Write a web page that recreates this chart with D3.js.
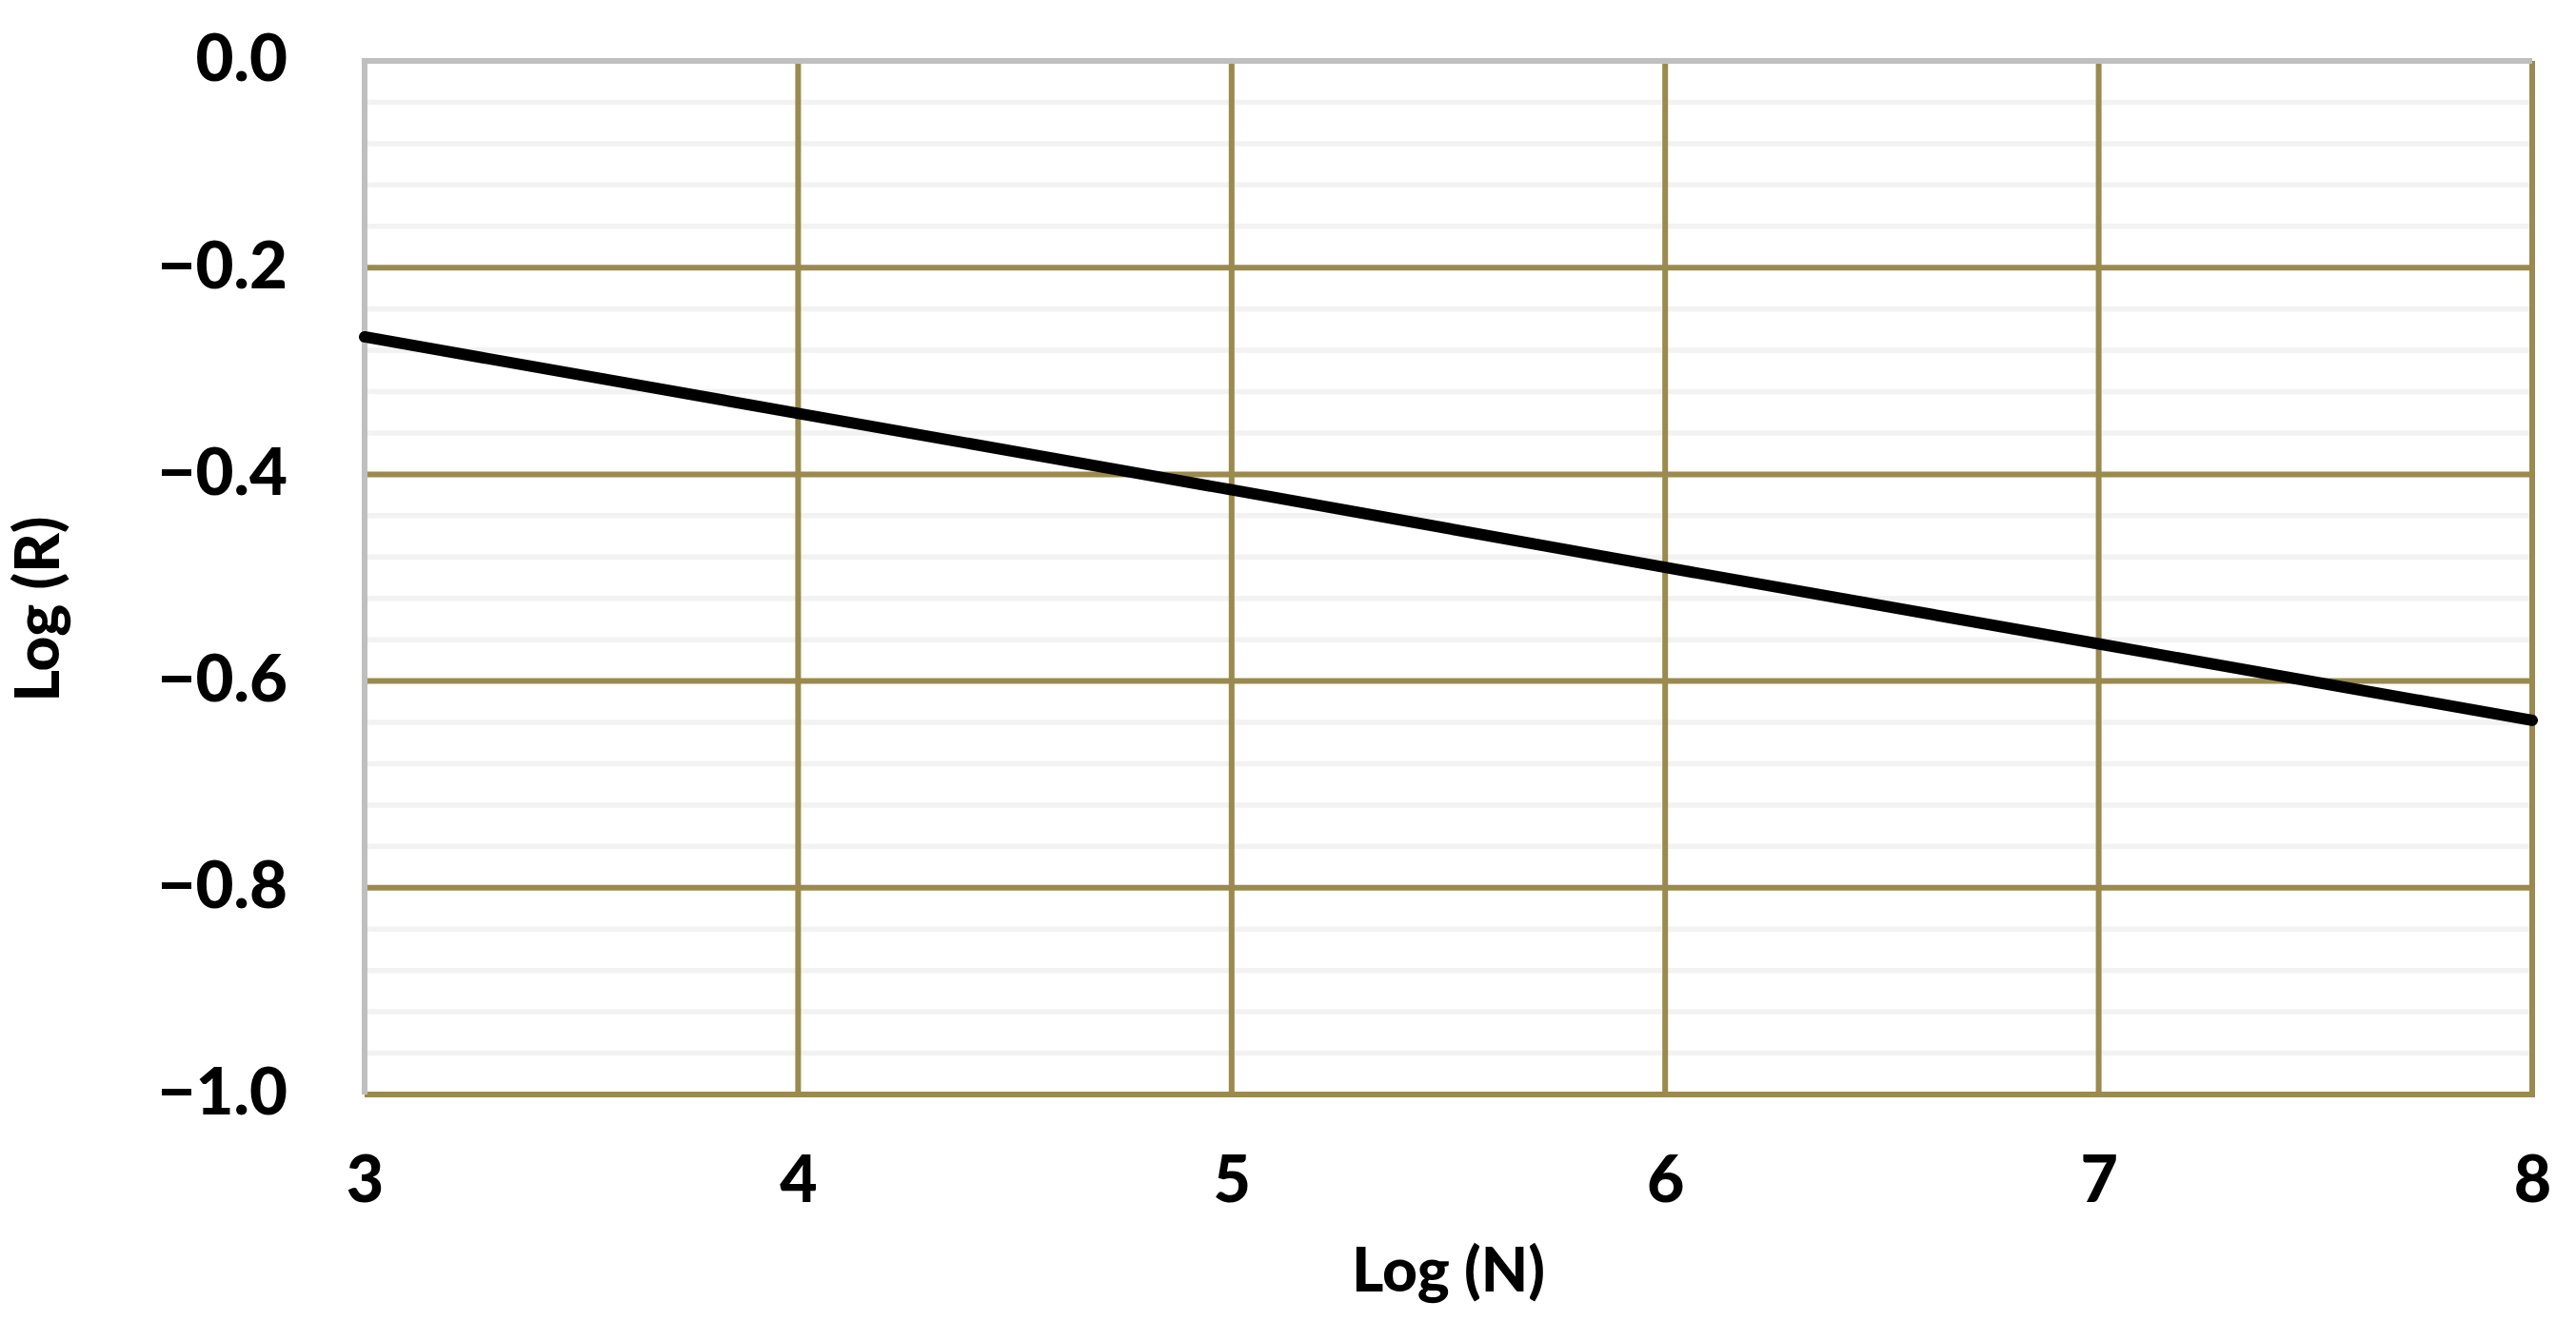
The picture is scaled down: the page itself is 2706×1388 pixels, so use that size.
<!DOCTYPE html>
<html>
<head>
<meta charset="utf-8">
<script src="https://cdn.jsdelivr.net/npm/d3@7"></script>
<style>
  html, body { margin: 0; padding: 0; background: #ffffff; }
  svg { display: block; }
  text { font-family: Lato, "Open Sans", sans-serif; font-weight: 900; fill: #000; }
</style>
</head>
<body>
<svg id="chart" width="2706" height="1388"></svg>
<script>
// ---- data ----
const logN = [3, 4, 5, 6, 7, 8];
const logR = [-0.267, -0.341, -0.415, -0.490, -0.564, -0.638];
const xTickValues = [3, 4, 5, 6, 7, 8];
const yTickValues = [0, -0.2, -0.4, -0.6, -0.8, -1.0];
const xTitle = "Log (N)";
const yTitle = "Log (R)";

// ---- layout ----
const plot = { left: 383, right: 2660, top: 64, bottom: 1150 };
const gold = "#9a8a4e";
const gray = "#bfbfbf";
const minorColor = "#f2f2f2";
const FW = 900;

const svg = d3.select("#chart");
const x = d3.scaleLinear().domain([3, 8]).range([plot.left, plot.right]);
const y = d3.scaleLinear().domain([-1, 0]).range([plot.bottom, plot.top]);

const fmtY = v => (v < 0 ? "\u2212" : "") + Math.abs(v).toFixed(1);

// minor horizontal gridlines every 0.04
const minor = d3.range(0, 26).map(i => -i * 0.04)
  .filter(v => Math.abs(Math.round(v / 0.2) * 0.2 - v) > 1e-6);
svg.append("g").selectAll("line").data(minor).join("line")
  .attr("x1", plot.left).attr("x2", plot.right)
  .attr("y1", d => y(d)).attr("y2", d => y(d))
  .attr("stroke", minorColor).attr("stroke-width", 5.5);

// major horizontal gridlines (gold)
svg.append("g").selectAll("line").data(yTickValues.filter(v => v < 0)).join("line")
  .attr("x1", plot.left).attr("x2", plot.right + 3)
  .attr("y1", d => y(d)).attr("y2", d => y(d))
  .attr("stroke", gold).attr("stroke-width", 6);

// major vertical gridlines (gold)
svg.append("g").selectAll("line").data(xTickValues.filter(v => v > 3)).join("line")
  .attr("x1", d => x(d)).attr("x2", d => x(d))
  .attr("y1", plot.top).attr("y2", plot.bottom + 3)
  .attr("stroke", gold).attr("stroke-width", 6);

// gray top and left borders
svg.append("line")
  .attr("x1", plot.left - 3).attr("x2", plot.right)
  .attr("y1", plot.top).attr("y2", plot.top)
  .attr("stroke", gray).attr("stroke-width", 6);
svg.append("line")
  .attr("x1", plot.left).attr("x2", plot.left)
  .attr("y1", plot.top - 3).attr("y2", plot.bottom)
  .attr("stroke", gray).attr("stroke-width", 6);

// data line
const line = d3.line().x((d, i) => x(logN[i])).y(d => y(d));
svg.append("path")
  .datum(logR)
  .attr("d", line)
  .attr("fill", "none")
  .attr("stroke", "#000")
  .attr("stroke-width", 12)
  .attr("stroke-linecap", "round")
  .attr("stroke-linejoin", "round");

// y axis labels
const yAxis = d3.axisLeft(y).tickValues(yTickValues).tickFormat(fmtY).tickSize(0).tickPadding(0);
const gy = svg.append("g").attr("transform", `translate(302,-4)`).call(yAxis);
gy.select(".domain").remove();
gy.selectAll("text").attr("font-size", 69).attr("font-family", "Lato, 'Open Sans', sans-serif")
  .attr("font-weight", FW).attr("fill", "#000").attr("dy", "0.36em");

// x axis labels
const xAxis = d3.axisBottom(x).tickValues(xTickValues).tickFormat(d3.format("d")).tickSize(0).tickPadding(0);
const gx = svg.append("g").attr("transform", `translate(0,1215)`).call(xAxis);
gx.select(".domain").remove();
gx.selectAll("text").attr("font-size", 68).attr("font-family", "Lato, 'Open Sans', sans-serif")
  .attr("font-weight", FW).attr("fill", "#000").attr("dy", "0.71em");

// axis titles
svg.append("text")
  .attr("x", (plot.left + plot.right) / 2).attr("y", 1357)
  .attr("text-anchor", "middle").attr("font-size", 64)
  .text(xTitle);
svg.append("text")
  .attr("transform", `translate(62,640) rotate(-90)`)
  .attr("text-anchor", "middle").attr("font-size", 64)
  .text(yTitle);
</script>
</body>
</html>
